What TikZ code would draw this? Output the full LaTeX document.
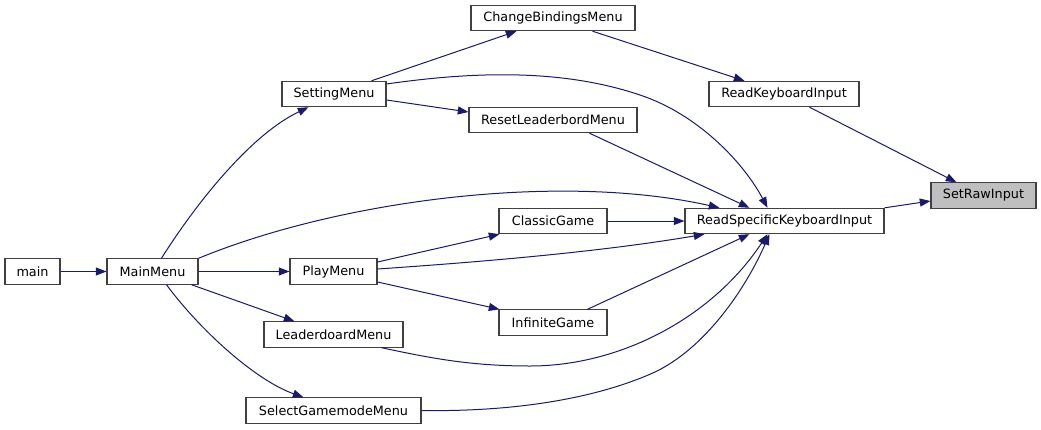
\documentclass[tikz,border=0pt]{standalone}
\usepackage{fontspec}
\setmainfont{DejaVu Sans}
\usetikzlibrary{arrows.meta,calc}
\definecolor{edgeblue}{HTML}{191970}
\definecolor{boxline}{HTML}{404040}
\definecolor{grayfill}{HTML}{BFBFBF}
\tikzset{
  box/.style={draw=boxline, line width=0.8pt, fill=white, inner sep=0pt,
    minimum height=19pt, font=\fontsize{9.6}{11}\selectfont, text=black},
  edge/.style={draw=edgeblue, line width=0.75pt,
    -{Triangle[length=8pt,width=6pt]}, fill=none}
}
\begin{document}
\begin{tikzpicture}[x=0.75pt,y=-0.75pt]
\useasboundingbox (0,0) rectangle (1041,429);
% nodes
\node[box, minimum width=41.25pt] (main) at (32.5,271.5) {main};
\node[box, minimum width=68.25pt] (mm) at (152.5,271.5) {MainMenu};
\node[box, minimum width=65.25pt] (pm) at (333.5,271.5) {PlayMenu};
\node[box, minimum width=104.25pt] (lm) at (333.5,334.5) {LeaderdoardMenu};
\node[box, minimum width=131.25pt] (sgm) at (333.5,410.5) {SelectGamemodeMenu};
\node[box, minimum width=78pt] (sm) at (334,94) {SettingMenu};
\node[box, minimum width=126pt] (rlm) at (553,120) {ResetLeaderbordMenu};
\node[box, minimum width=123pt] (cbm) at (553,18) {ChangeBindingsMenu};
\node[box, minimum width=112.5pt] (rki) at (784,94) {ReadKeyboardInput};
\node[box, minimum width=78.75pt, fill=grayfill] (sri) at (983.5,195.5) {SetRawInput};
\node[box, minimum width=149.25pt] (rski) at (784.5,221) {ReadSpecificKeyboardInput};
\node[box, minimum width=81pt] (cg) at (553,221) {ClassicGame};
\node[box, minimum width=81pt] (ig) at (553,322.5) {InfiniteGame};
% edges
\draw[edge] (main.east) -- (mm.west);
\draw[edge] (mm.east) -- (pm.west);
\draw[edge] ($(mm.north west)+(55,0)$) .. controls (195,205) and (250,135) .. ($(sm.south west)+(27,0)$);
\draw[edge] ($(mm.south west)+(85,0)$) -- ($(lm.north west)+(31,0)$);
\draw[edge] ($(mm.south west)+(60,0)$) .. controls (200,330) and (255,380) .. ($(sgm.north west)+(58,0)$);
\draw[edge] (mm.north east) .. controls (340,200) and (560,172) .. ($(rski.north west)+(35,0)$);
\draw[edge] ($(sm.north west)+(90,0)$) -- ($(cbm.south west)+(46,0)$);
\draw[edge] ($(sm.east)+(0,6)$) -- ($(rlm.west)+(0,-8)$);
\draw[edge] ($(sm.east)+(0,-10)$) .. controls (470,72) and (560,68) .. (640,95) .. controls (700,115) and (745,165) .. ($(rski.north west)+(83,0)$);
\draw[edge] ($(cbm.south west)+(122,0)$) -- ($(rki.north west)+(36,0)$);
\draw[edge] ($(rki.south west)+(101,0)$) -- ($(sri.north west)+(26,0)$);
\draw[edge] (rski.north east) -- ($(sri.west)+(0,5.5)$);
\draw[edge] ($(rlm.south west)+(121,0)$) -- ($(rski.north west)+(65,0)$);
\draw[edge] (cg.east) -- (rski.west);
\draw[edge] ($(pm.east)+(0,-9.5)$) -- ($(cg.south west)+(1,0)$);
\draw[edge] ($(pm.east)+(0,-2.5)$) .. controls (480,262) and (600,252) .. ($(rski.south west)+(20,0)$);
\draw[edge] ($(pm.east)+(0,10.5)$) -- ($(ig.north west)+(1,0)$);
\draw[edge] ($(ig.north west)+(89,0)$) -- ($(rski.south west)+(65,0)$);
\draw[edge] ($(lm.south west)+(118,0)$) .. controls (430,358) and (470,366) .. (530,366) .. controls (620,366) and (712,318) .. ($(rski.south west)+(83,0)$);
\draw[edge] (sgm.east) .. controls (520,412) and (600,397) .. (655,372) .. controls (705,348) and (745,290) .. ($(rski.south west)+(85,0)$);
\end{tikzpicture}
\end{document}
